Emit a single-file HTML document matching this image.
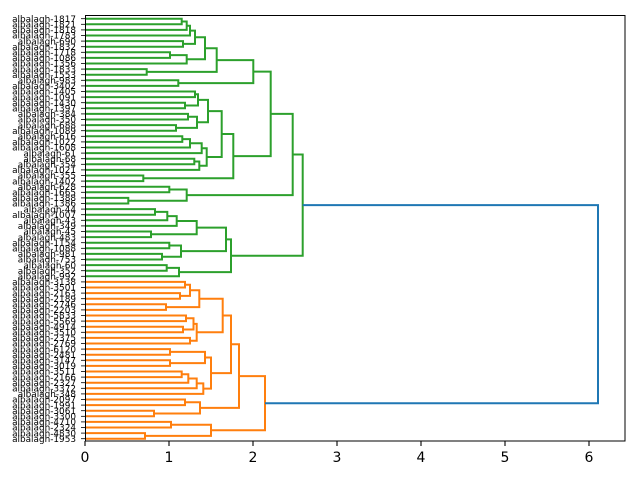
<!DOCTYPE html>
<html><head><meta charset="utf-8"><style>
html,body{margin:0;padding:0;background:#fff;width:640px;height:480px;overflow:hidden}
svg{display:block}
</style></head><body>
<svg id="s" width="640" height="480" xmlns="http://www.w3.org/2000/svg">
<rect x="0" y="0" width="640" height="480" fill="#fff"/>
</svg>
<script>
var labels=["1817","1821","1818","1783","690","1832","1718","1086","1356","1833","1553","983","3402","1405","1091","1430","1397","384","350","688","1089","616","1022","1608","61","68","354","1021","355","1402","628","1665","1388","1386","44","1007","43","349","45","483","1154","1088","981","753","60","352","992","3138","3501","2163","2189","2746","2203","5833","5569","4914","3510","2375","2769","6120","2481","3147","3019","3511","2166","2327","3372","348","2097","1991","3061","3300","4710","2324","4830","1953"];
var svg=document.getElementById('s');var out='';
function ly(i){return 18.7+5.6*i;}
function L(i){return {x:85,y:ly(i)};}
var col='#2ca02c';
function n(a,b,x){
 out+='<path d="M'+a.x+' '+a.y+'H'+x+'V'+b.y+'H'+b.x+'" fill="none" stroke="'+col+'" stroke-width="2"/>';
 return {x:x,y:(a.y+b.y)/2};
}
var A=n(n(n(L(0),L(1),181.7),L(2),186.7),L(3),190);
var B=n(L(4),L(5),183);
var AB=n(A,B,195);
var C=n(n(L(6),L(7),170),L(8),186.7);
var ABC=n(AB,C,205);
var D=n(ABC,n(L(9),L(10),146.7),216.7);
var E=n(D,n(L(11),L(12),178.3),253.3);
var G2a=n(n(L(13),L(14),195),n(L(15),L(16),185),198);
var G2b=n(n(L(17),L(18),188),n(L(19),L(20),176),197);
var G2=n(G2a,G2b,208);
var C1=n(n(n(L(21),L(22),182.3),L(23),190),L(24),201.7);
var C2=n(n(L(25),L(26),194.3),L(27),199.3);
var GC=n(C1,C2,206.7);
var H=n(G2,GC,221.7);
var I=n(H,n(L(28),L(29),143.3),233.3);
var J=n(E,I,270.7);
var K=n(J,n(n(L(30),L(31),169.3),n(L(32),L(33),128.3),186.7),292.7);
var D1=n(n(n(n(L(34),L(35),155),L(36),167.3),L(37),176.7),n(L(38),L(39),151),196.7);
var D2=n(n(L(40),L(41),169.3),n(L(42),L(43),162),181);
var D3=n(n(L(44),L(45),166.7),L(46),179);
var DD=n(n(D1,D2,226),D3,231);
var GREEN=n(K,DD,302.7);
col='#ff7f0e';
var O1=n(n(n(L(47),L(48),185),n(L(49),L(50),180),190),n(L(51),L(52),166),199.3);
var O2=n(n(n(L(53),L(54),186),n(L(55),L(56),183),193.5),n(L(57),L(58),190),196.7);
var O12=n(O1,O2,222.7);
var O3=n(n(L(59),L(60),170),n(L(61),L(62),170),205);
var O4=n(n(n(n(L(63),L(64),181.7),L(65),188.3),L(66),196.7),L(67),203.3);
var O34=n(O3,O4,211);
var OA=n(O12,O34,231);
var OB=n(OA,n(n(L(68),L(69),185),n(L(70),L(71),154),200),239);
var OC=n(n(L(72),L(73),171),n(L(74),L(75),145),211);
var OR=n(OB,OC,265);
col='#1f77b4';
n(GREEN,OR,598);
out+='<rect x="85.5" y="15.5" width="539.5" height="425.5" fill="none" stroke="#000" stroke-width="1"/>';
for(var k=0;k<=6;k++){var x=85+84*k;
 out+='<line x1="'+x+'" y1="441" x2="'+x+'" y2="446" stroke="#000" stroke-width="1.1"/>';
 out+='<text x="'+x+'" y="462" font-family="DejaVu Sans, Liberation Sans, sans-serif" font-size="14" text-anchor="middle" fill="#000">'+k+'</text>';}
for(var i=0;i<labels.length;i++){var y=ly(i);
 out+='<line x1="81" y1="'+y+'" x2="85" y2="'+y+'" stroke="#000" stroke-width="0.8"/>';
 out+='<text x="76" y="'+(y+3.2)+'" font-family="DejaVu Sans, Liberation Sans, sans-serif" font-size="8.9" text-anchor="end" fill="#000">albalagh-'+labels[i]+'</text>';}
svg.innerHTML+=out;
</script>
</body></html>
